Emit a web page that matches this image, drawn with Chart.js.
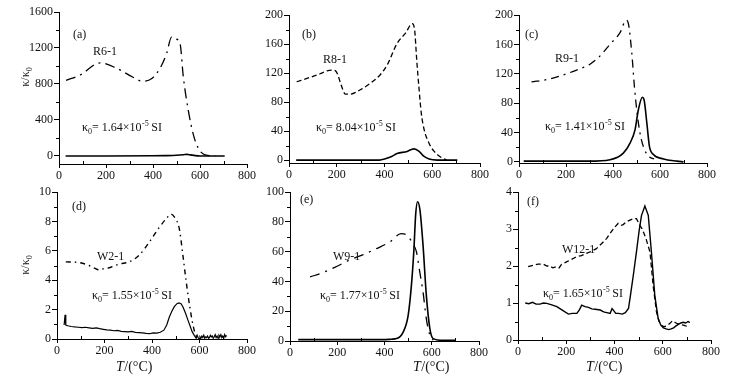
<!DOCTYPE html>
<html><head><meta charset="utf-8">
<script src="https://cdn.jsdelivr.net/npm/chart.js@4"></script>
<style>
html,body{margin:0;padding:0;background:#fff;}
#wrap{position:relative;width:743px;height:381px;overflow:hidden;background:#fff;}
canvas{position:absolute;left:0;top:0;}
</style></head><body><div id="wrap">
<canvas id="ca" width="743" height="381"></canvas>
<canvas id="cb" width="743" height="381"></canvas>
<canvas id="cc" width="743" height="381"></canvas>
<canvas id="cd" width="743" height="381"></canvas>
<canvas id="ce" width="743" height="381"></canvas>
<canvas id="cf" width="743" height="381"></canvas>
</div>
<script>
// ---------- data ----------
const PANEL_LABELS = ['(a)','(b)','(c)','(d)','(e)','(f)'];
const SAMPLES = ['R6-1','R8-1','R9-1','W2-1','W9-1','W12-1'];
const KAPPA0 = ['1.64','8.04','1.41','1.55','1.77','1.65'];
const X_TICKS = [0,200,400,600,800];
const Y_TICKS_A = [0,400,800,1200,1600];
const Y_TICKS_B = [0,40,80,120,160,200];
const Y_TICKS_C = [0,40,80,120,160,200];
const Y_TICKS_D = [0,2,4,6,8,10];
const Y_TICKS_E = [0,20,40,60,80,100];
const Y_TICKS_F = [0,1,2,3,4];

// (a) R6-1
const aHeatT = [30,90,175,245,315,355,395,430,458,479,497,515,529,550,572,593,614,640,665];
const aHeatV = [840,900,1035,975,875,830,860,975,1140,1320,1300,1250,880,510,235,85,22,5,0];
const aCoolT = [28,200,400,450,500,530,545,560,580,600,705];
const aCoolV = [0,0,2,4,8,14,18,12,4,0,0];
// (b) R8-1
const bHeatT = [32,88,130,159,180,195,204,218,236,257,299,341,383,411,453,488,516,526,535,545,554,566,587,608,636,660];
const bHeatV = [108,114,119,123,124,123,118,104,91,91,97,106,118,131,161,175,188,180,138,97,65,42,23,12,4,0];
const bCoolT = [30,380,400,430,453,495,515,524,545,566,587,622,705];
const bCoolV = [0,0,1.5,5,9,12,15,15.5,12,5,1.4,0,0];
// (c) R9-1
const cHeatT = [53,117,174,245,302,344,387,430,456,465,480,491,501,515,530,550,575];
const cHeatV = [109,112,117,125,133,144,160,176,193,189,148,103,71,39,20,8,4];
const cCoolT = [20,300,387,444,473,494,508,525,532,544,555,572,615,672,700];
const cCoolV = [1,1,3,12,26,44,71,88,85,53,21,10,4,1,0];
// (d) W2-1
const dHeatT = [37,93,135,160,177,200,220,262,304,346,389,431,466,480,494,515,530,544,558,572,586,600];
const dHeatV = [5.25,5.2,5.0,4.8,4.7,4.8,4.85,5.1,5.25,5.7,6.6,7.6,8.3,8.5,8.3,7.5,5.7,3.9,2.3,1.0,0.2,0.1];
const dCoolT = [30,34,37,45,60,75,90,105,120,135,150,165,180,195,210,225,240,255,270,285,300,315,330,345,360,375,390,405,420,435,450,462,473,484,494,505,513,522,530,540,551,560,569,578,586,590,594,598,602,606,610,614,618,622,626,630,634,638,642,646,650,654,658,662,666,670,674,678,682,686,690,694,698,702,706,710,714];
const dCoolV = [0.95,1.65,0.95,0.9,0.85,0.82,0.8,0.78,0.8,0.76,0.72,0.75,0.7,0.66,0.62,0.6,0.56,0.58,0.52,0.5,0.48,0.52,0.45,0.44,0.42,0.38,0.36,0.42,0.4,0.46,0.6,0.95,1.5,1.9,2.2,2.4,2.45,2.4,2.2,1.8,1.3,0.9,0.5,0.25,0.05,0.25,0.1,0.0,0.15,0.05,0.2,0.1,0.25,0.05,0.15,0.1,0.2,0.05,0.1,0.25,0.15,0.2,0.05,0.15,0.3,0.1,0.2,0.05,0.25,0.15,0.3,0.1,0.2,0.05,0.3,0.15,0.25];
// (e) W9-1
const eHeatT = [85,141,197,254,310,366,423,470,495,510,521,535,549,563,577,592,606];
const eHeatV = [43,46,50,54.5,58,62,66.5,72,71,68,65,60,46.5,33,15,4,0.5];
const eCoolT = [35,394,430,451,479,500,514,524,532,540,550,563,577,592,606,648,700];
const eCoolV = [0.9,0.9,1.2,1.6,6,17,37.5,60,85,93.5,88,64.5,30.8,8.3,1.6,0.4,0.4];
// (f) W12-1
const fHeatT = [42,62,83,104,120,131,145,159,170,180,201,222,242,263,284,305,325,346,367,384,401,415,428,436,450,464,478,491,505,515,530,547,560,574,585,595,605,617,630,640,650,660,673,685,695,705];
const fHeatV = [1.98,2.02,2.05,2.05,2.0,2.0,1.95,1.98,1.95,2.04,2.11,2.18,2.25,2.28,2.34,2.4,2.47,2.6,2.74,2.9,3.05,3.15,3.1,3.12,3.2,3.24,3.28,3.28,3.1,3.0,2.75,2.38,1.48,0.76,0.5,0.4,0.36,0.38,0.45,0.52,0.48,0.44,0.42,0.4,0.38,0.37];
const fCoolT = [30,45,60,75,91,105,119,140,161,185,209,225,244,255,264,278,292,306,320,341,355,368,382,390,396,405,417,432,445,458,466,478,491,502,512,526,540,553,567,581,592,603,614,625,635,645,655,665,675,685,695,705,712];
const fCoolV = [1.0,0.98,1.02,0.97,0.97,1.0,0.99,0.95,0.9,0.8,0.7,0.72,0.72,0.82,0.94,0.9,0.88,0.84,0.83,0.81,0.76,0.74,0.72,0.85,0.8,0.72,0.72,0.7,0.74,0.85,1.2,1.75,2.38,2.95,3.37,3.62,3.37,2.38,1.21,0.58,0.4,0.33,0.3,0.28,0.3,0.33,0.38,0.42,0.46,0.48,0.46,0.5,0.47];

// ---------- layout / styles ----------
const FONT = '"Liberation Serif", "Times New Roman", serif';
const INK = '#111';
const W = 743, H = 381;

const panels = [
  {id:'ca', area:{l:59,r:247,t:12,b:164}, yMin:-89, yMax:1600, yTicks:Y_TICKS_A,
   series:[{T:aHeatT,V:aHeatV,dash:[10,5,2,5],w:1.3,smooth:true},{T:aCoolT,V:aCoolV,dash:[],w:1.6,smooth:true}],
   lab:{x:73,y:35}, name:{x:93,y:52}, k0:{x:82,y:127}, yTitle:{x:25,y:77}},
  {id:'cb', area:{l:289,r:480,t:15,b:163}, yMin:-4, yMax:200, yTicks:Y_TICKS_B,
   series:[{T:bHeatT,V:bHeatV,dash:[5,3],w:1.3,smooth:true},{T:bCoolT,V:bCoolV,dash:[],w:1.6,smooth:true}],
   lab:{x:302,y:35}, name:{x:323,y:60}, k0:{x:316,y:127}},
  {id:'cc', area:{l:519,r:707,t:15,b:163}, yMin:-1.5, yMax:200, yTicks:Y_TICKS_C,
   series:[{T:cHeatT,V:cHeatV,dash:[8,5,2,5],w:1.3,smooth:true},{T:cCoolT,V:cCoolV,dash:[],w:1.6,smooth:true}],
   lab:{x:525,y:35}, name:{x:555,y:59}, k0:{x:545,y:126}},
  {id:'cd', area:{l:57,r:247,t:192,b:339}, yMin:0, yMax:10, yTicks:Y_TICKS_D,
   series:[{T:dHeatT,V:dHeatV,dash:[5,4,1.5,4],w:1.4,smooth:true},{T:dCoolT,V:dCoolV,dash:[],w:1.2,smooth:false}],
   lab:{x:72,y:207}, name:{x:97,y:257}, k0:{x:92,y:295}, yTitle:{x:25,y:265}, xTitle:{x:134,y:367}},
  {id:'ce', area:{l:290,r:479,t:192,b:341}, yMin:0, yMax:100, yTicks:Y_TICKS_E,
   series:[{T:eHeatT,V:eHeatV,dash:[10,6,2,6],w:1.3,smooth:true},{T:eCoolT,V:eCoolV,dash:[],w:1.6,smooth:true}],
   lab:{x:300,y:200}, name:{x:333,y:257}, k0:{x:320,y:295}, xTitle:{x:431,y:367}},
  {id:'cf', area:{l:518,r:711,t:192,b:340}, yMin:0, yMax:4, yTicks:Y_TICKS_F,
   series:[{T:fHeatT,V:fHeatV,dash:[5,3],w:1.3,smooth:false},{T:fCoolT,V:fCoolV,dash:[],w:1.4,smooth:false}],
   lab:{x:527,y:202}, name:{x:562,y:250}, k0:{x:543,y:293}, xTitle:{x:604,y:367}}
];

function drawK0(ctx, x, yMid, val) {
  const big = '12px ' + FONT, small = '8px ' + FONT;
  ctx.textBaseline = 'alphabetic'; ctx.textAlign = 'left';
  const y = yMid + 4; let cx = x;
  ctx.font = big; ctx.fillText('κ', cx, y); cx += ctx.measureText('κ').width;
  ctx.font = small; ctx.fillText('0', cx, y + 2.5); cx += ctx.measureText('0').width;
  ctx.font = big; const s = '= ' + val + '×10'; ctx.fillText(s, cx, y); cx += ctx.measureText(s).width;
  ctx.font = small; ctx.fillText('-5', cx + 0.5, y - 5); cx += ctx.measureText('-5').width + 3;
  ctx.font = big; ctx.fillText('SI', cx, y);
}

function overlay(p, idx) {
  return {
    id: 'overlay' + idx,
    afterDraw(chart) {
      const ctx = chart.ctx;
      const xs = chart.scales.x, ys = chart.scales.y;
      const a = chart.chartArea;
      ctx.save();
      ctx.strokeStyle = '#000'; ctx.lineWidth = 1; ctx.setLineDash([]);
      ctx.beginPath();
      for (let i = 0; i < X_TICKS.length - 1; i++) {
        const px = Math.round(xs.getPixelForValue((X_TICKS[i] + X_TICKS[i+1]) / 2)) + 0.5;
        ctx.moveTo(px, a.bottom); ctx.lineTo(px, a.bottom - 3);
      }
      for (let i = 0; i < p.yTicks.length - 1; i++) {
        const py = Math.round(ys.getPixelForValue((p.yTicks[i] + p.yTicks[i+1]) / 2)) + 0.5;
        ctx.moveTo(a.left, py); ctx.lineTo(a.left - 3, py);
      }
      ctx.stroke();
      ctx.fillStyle = INK;
      ctx.textAlign = 'left'; ctx.textBaseline = 'middle';
      ctx.font = '12px ' + FONT;
      ctx.fillText(PANEL_LABELS[idx], p.lab.x, p.lab.y);
      ctx.fillText(SAMPLES[idx], p.name.x, p.name.y);
      drawK0(ctx, p.k0.x, p.k0.y, KAPPA0[idx]);
      if (p.yTitle) {
        ctx.save();
        ctx.translate(p.yTitle.x, p.yTitle.y);
        ctx.rotate(-Math.PI / 2);
        ctx.textBaseline = 'alphabetic';
        const big = '12px ' + FONT, small = '8px ' + FONT;
        ctx.font = big; const w1 = ctx.measureText('κ/κ').width;
        ctx.font = small; const w2 = ctx.measureText('0').width;
        let cx = -(w1 + w2) / 2;
        ctx.font = big; ctx.fillText('κ/κ', cx, 4);
        ctx.font = small; ctx.fillText('0', cx + w1, 6.5);
        ctx.restore();
      }
      if (p.xTitle) {
        ctx.textBaseline = 'middle';
        const f1 = 'italic 14px ' + FONT, f2 = '14px ' + FONT;
        ctx.font = f1; const w1 = ctx.measureText('T').width;
        ctx.font = f2; const w2 = ctx.measureText('/(°C)').width;
        const x0 = p.xTitle.x - (w1 + w2) / 2;
        ctx.font = f1; ctx.fillText('T', x0, p.xTitle.y);
        ctx.font = f2; ctx.fillText('/(°C)', x0 + w1 + 0.5, p.xTitle.y);
      }
      ctx.restore();
    }
  };
}

function makeChart(p, idx) {
  const datasets = p.series.map(s => ({
    data: s.T.map((t, i) => ({x: t, y: s.V[i]})),
    borderColor: '#000',
    borderWidth: s.w,
    borderDash: s.dash,
    pointRadius: 0,
    fill: false,
    tension: 0,
    cubicInterpolationMode: s.smooth ? 'monotone' : 'default'
  }));
  const tickFont = {family: FONT, size: 12};
  new Chart(document.getElementById(p.id), {
    type: 'line',
    data: {datasets},
    options: {
      responsive: false, animation: false, devicePixelRatio: 1,
      events: [],
      layout: {padding: {left: p.area.l - 45, top: p.area.t, right: W - p.area.r, bottom: H - p.area.b - 30}},
      plugins: {legend: {display: false}, tooltip: {enabled: false}, title: {display: false}},
      scales: {
        x: {
          type: 'linear', min: 0, max: 800,
          afterBuildTicks: s => { s.ticks = X_TICKS.map(v => ({value: v})); },
          afterFit: s => { s.height = 30; s.paddingLeft = 0; s.paddingRight = 0; },
          grid: {drawOnChartArea: false, drawTicks: true, tickLength: 4, color: '#000'},
          border: {display: true, color: '#000', width: 1},
          ticks: {font: tickFont, color: INK, padding: 1, maxRotation: 0, autoSkip: false, callback: v => String(v)}
        },
        y: {
          type: 'linear', min: p.yMin, max: p.yMax,
          afterBuildTicks: s => { s.ticks = p.yTicks.map(v => ({value: v})); },
          afterFit: s => { s.width = 45; s.paddingTop = 0; s.paddingBottom = 0; },
          grid: {drawOnChartArea: false, drawTicks: true, tickLength: 5, color: '#000'},
          border: {display: true, color: '#000', width: 1},
          ticks: {font: tickFont, color: INK, padding: 1, autoSkip: false, callback: v => String(v)}
        }
      }
    },
    plugins: [overlay(p, idx)]
  });
}

panels.forEach((p, i) => makeChart(p, i));
</script>
</body></html>
